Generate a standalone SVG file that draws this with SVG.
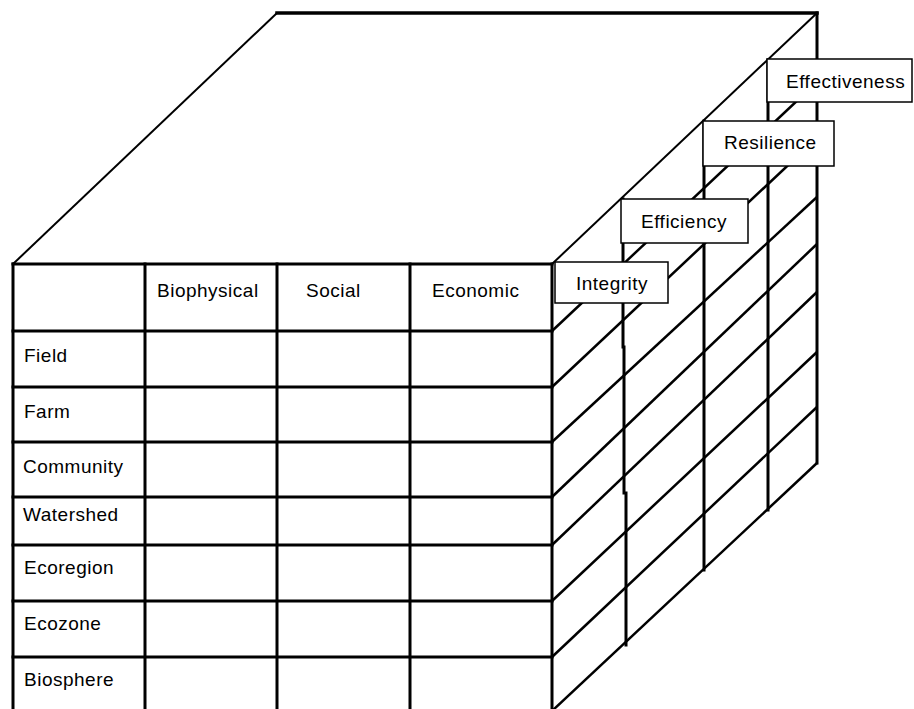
<svg xmlns="http://www.w3.org/2000/svg" width="914" height="709" viewBox="0 0 914 709">
<style>
.bg{fill:#ffffff}
.thick{stroke:#000;stroke-width:3;fill:none;stroke-linecap:square}
.thin{stroke:#000;stroke-width:2;fill:none}
.side{stroke:#000;stroke-width:2.5;fill:none}
.box{fill:#fff;stroke:#000;stroke-width:1.5}
.t{font-family:"Liberation Sans","DejaVu Sans",sans-serif;font-size:19px;letter-spacing:0.5px;fill:#000}
</style>
<rect class="bg" x="0" y="0" width="914" height="709"/>
<g id="connectors">
  <line class="thin" x1="13" y1="264" x2="277" y2="13"/>
  <line class="thick" x1="277" y1="13" x2="817" y2="13" style="stroke-width:3.5"/>
  <line class="thin" x1="552" y1="264" x2="817" y2="13"/>
  <line class="thick" x1="817" y1="13" x2="817" y2="463"/>
  <polyline class="thick" points="623,199 623,347 624,347 624,493 626,493 626,645"/>
  <line class="thick" x1="704" y1="121" x2="704" y2="570"/>
  <line class="thick" x1="768" y1="60" x2="768" y2="510"/>
  <line class="side" x1="552" y1="331" x2="817" y2="82"/>
  <line class="side" x1="552" y1="387" x2="817" y2="138"/>
  <line class="side" x1="552" y1="442" x2="817" y2="197"/>
  <line class="side" x1="552" y1="497" x2="817" y2="244"/>
  <line class="side" x1="552" y1="545" x2="817" y2="292"/>
  <line class="side" x1="552" y1="601" x2="817" y2="352"/>
  <line class="side" x1="552" y1="657" x2="817" y2="407"/>
  <line class="side" x1="552" y1="711" x2="817" y2="463"/>
</g>
<g id="front-table">
  <line class="thick" x1="13" y1="264" x2="552" y2="264"/>
  <line class="thick" x1="13" y1="264" x2="13" y2="712"/>
  <line class="thick" x1="145" y1="264" x2="145" y2="712"/>
  <line class="thick" x1="277" y1="264" x2="277" y2="712"/>
  <line class="thick" x1="410" y1="264" x2="410" y2="712"/>
  <line class="thick" x1="552" y1="264" x2="552" y2="712"/>
  <line class="thick" x1="13" y1="331" x2="552" y2="331"/>
  <line class="thick" x1="13" y1="387" x2="552" y2="387"/>
  <line class="thick" x1="13" y1="442" x2="552" y2="442"/>
  <line class="thick" x1="13" y1="497" x2="552" y2="497"/>
  <line class="thick" x1="13" y1="545" x2="552" y2="545"/>
  <line class="thick" x1="13" y1="601" x2="552" y2="601"/>
  <line class="thick" x1="13" y1="657" x2="552" y2="657"/>
</g>
<g id="col-headers">
  <text class="t" x="157" y="297">Biophysical</text>
  <text class="t" x="306" y="297">Social</text>
  <text class="t" x="432" y="297">Economic</text>
</g>
<g id="row-field"><text class="t" x="24" y="362">Field</text></g>
<g id="row-farm"><text class="t" x="24" y="418">Farm</text></g>
<g id="row-community"><text class="t" x="23" y="473">Community</text></g>
<g id="row-watershed"><text class="t" x="23" y="521">Watershed</text></g>
<g id="row-ecoregion"><text class="t" x="24" y="574">Ecoregion</text></g>
<g id="row-ecozone"><text class="t" x="24" y="630">Ecozone</text></g>
<g id="row-biosphere"><text class="t" x="24" y="686">Biosphere</text></g>
<g id="label-integrity">
  <rect class="box" x="555" y="262" width="113" height="41"/>
  <text class="t" x="576" y="290">Integrity</text>
</g>
<g id="label-efficiency">
  <rect class="box" x="621" y="199" width="127" height="44"/>
  <text class="t" x="641" y="228">Efficiency</text>
</g>
<g id="label-resilience">
  <rect class="box" x="703" y="121" width="131" height="45"/>
  <text class="t" x="724" y="149">Resilience</text>
</g>
<g id="label-effectiveness">
  <rect class="box" x="767" y="59" width="145" height="43"/>
  <text class="t" x="786" y="88">Effectiveness</text>
</g>
</svg>
